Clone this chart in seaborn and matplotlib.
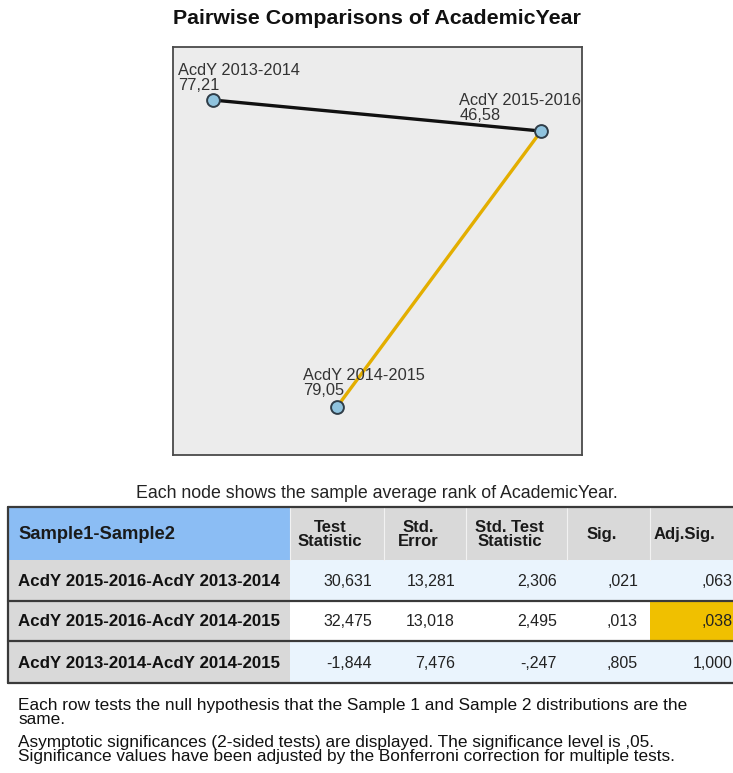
import matplotlib
matplotlib.use("Agg")
import matplotlib.pyplot as plt
from matplotlib import font_manager
from matplotlib.patches import Rectangle
import seaborn as sns
import pandas as pd

# node data (average ranks) and layout position inside the graph box (0-100 scale)
node_names = ["AcdY 2013-2014", "AcdY 2015-2016", "AcdY 2014-2015"]
node_ranks = [77.21, 46.58, 79.05]
node_x = [9.8, 90.0, 40.1]
node_y = [13.0, 20.6, 88.2]

# pairwise table
pairs = ["AcdY 2015-2016-AcdY 2013-2014",
         "AcdY 2015-2016-AcdY 2014-2015",
         "AcdY 2013-2014-AcdY 2014-2015"]
test_stat = [30.631, 32.475, -1.844]
std_err = [13.281, 13.018, 7.476]
std_test = [2.306, 2.495, -0.247]
sig = [0.021, 0.013, 0.805]
adj_sig = [0.063, 0.038, 1.000]
# edges drawn in the graph (index into pairs)
edges = [("AcdY 2015-2016", "AcdY 2013-2014", 0),
         ("AcdY 2015-2016", "AcdY 2014-2015", 1)]

headers = ["Sample1-Sample2", "Test\nStatistic", "Std.\nError",
           "Std. Test\nStatistic", "Sig.", "Adj.Sig."]
notes = ["Each row tests the null hypothesis that the Sample 1 and Sample 2 distributions are the",
         "same.",
         "Asymptotic significances (2-sided tests) are displayed. The significance level is ,05.",
         "Significance values have been adjusted by the Bonferroni correction for multiple tests."]

names = {f.name for f in font_manager.fontManager.ttflist}
REG = "Liberation Sans" if "Liberation Sans" in names else "DejaVu Sans"

sns.set_style("white")
plt.rcParams['font.family'] = [REG, 'DejaVu Sans']


def spss(v):
    s = f"{v:.3f}"
    if s.startswith("0."):
        s = s[1:]
    elif s.startswith("-0."):
        s = "-" + s[2:]
    return s.replace(".", ",")


W, H = 733, 773
fig = plt.figure(figsize=(W / 100, H / 100), dpi=100)
cv = fig.add_axes([0, 0, 1, 1])
cv.set_xlim(0, W)
cv.set_ylim(H, 0)
cv.axis("off")

cv.text(377, 18, "Pairwise Comparisons of AcademicYear", ha="center", va="center",
        fontsize=15.4, fontweight="bold", color="#111")

# graph box
gx0, gx1, gy0, gy1 = 173, 582, 47, 455
g = fig.add_axes([gx0 / W, 1 - gy1 / H, (gx1 - gx0) / W, (gy1 - gy0) / H])
g.set_facecolor("#ececec")
g.set_xlim(0, 100)
g.set_ylim(100, 0)
g.set_xticks([])
g.set_yticks([])
for sp in g.spines.values():
    sp.set_color("#4a4a4a")
    sp.set_linewidth(1.3)

nodes = pd.DataFrame({"name": node_names, "rank": node_ranks, "x": node_x, "y": node_y}).set_index("name")
for a, b, i in edges:
    col = "#e3ae00" if adj_sig[i] < 0.05 else "#111111"
    g.plot([nodes.loc[a, "x"], nodes.loc[b, "x"]], [nodes.loc[a, "y"], nodes.loc[b, "y"]],
           color=col, lw=2.4, solid_capstyle="round", zorder=2)
sns.scatterplot(data=nodes.reset_index(), x="x", y="y", ax=g, s=85, color="#8fc3de",
                edgecolor="#2f3d48", linewidth=1.4, zorder=3, legend=False)
g.set_xlabel("")
g.set_ylabel("")
label_off = {"AcdY 2013-2014": (-25, 5), "AcdY 2015-2016": (-59, 6), "AcdY 2014-2015": (-24.5, 6.5)}
for name, row in nodes.iterrows():
    g.annotate(f"{name}\n{row['rank']:.2f}".replace(".", ","), (row["x"], row["y"]),
               xytext=label_off[name], textcoords="offset points", ha="left", va="bottom",
               fontsize=11.8, color="#333", linespacing=1.0, zorder=4)

cv.text(377, 493, "Each node shows the sample average rank of AcademicYear.", ha="center",
        va="center", fontsize=12.8, color="#222")

# table
col_edges = [8, 290, 384, 466, 567, 650, 760]
row_edges = [507, 560, 601, 641, 683]
cols = [test_stat, std_err, std_test, sig, adj_sig]
for c in range(6):
    x0, x1 = col_edges[c], col_edges[c + 1]
    cv.add_patch(Rectangle((x0, row_edges[0]), x1 - x0, row_edges[1] - row_edges[0],
                           facecolor="#8bbdf4" if c == 0 else "#d9d9d9", edgecolor="none"))
    if c > 0:
        cv.plot([x0, x0], [row_edges[0], row_edges[1]], color="#f2f2f2", lw=0.8)
    if c == 0:
        cv.text(18, (row_edges[0] + row_edges[1]) / 2 + 1, headers[0], ha="left", va="center",
                fontsize=13.2, fontweight="bold", color="#1a1a1a")
    else:
        cv.text((x0 + min(x1, 733)) / 2 - 7, (row_edges[0] + row_edges[1]) / 2 + 1,
                headers[c], ha="center", va="center", multialignment="center", fontsize=12,
                fontweight="bold", color="#1a1a1a", linespacing=0.95)

num_right = [372, 455, 557, 638, 733]
for r, label in enumerate(pairs):
    y0, y1 = row_edges[r + 1], row_edges[r + 2]
    ym = (y0 + y1) / 2 + 1
    bg = "#ffffff" if r == 1 else "#eaf4fd"
    cv.add_patch(Rectangle((col_edges[0], y0), col_edges[1] - col_edges[0], y1 - y0,
                           facecolor="#d9d9d9", edgecolor="none"))
    cv.add_patch(Rectangle((col_edges[1], y0), col_edges[-1] - col_edges[1], y1 - y0,
                           facecolor=bg, edgecolor="none"))
    if adj_sig[r] < 0.05:
        cv.add_patch(Rectangle((col_edges[5], y0), col_edges[6] - col_edges[5], y1 - y0,
                               facecolor="#f0c000", edgecolor="none"))
    cv.text(18, ym, label, ha="left", va="center", fontsize=12.2,
            fontweight="bold", color="#111")
    for c, vals in enumerate(cols):
        cv.text(num_right[c], ym, spss(vals[r]), ha="right", va="center",
                fontsize=11.5, color="#222")

for y in row_edges[2:]:
    cv.plot([col_edges[0], W], [y, y], color="#3a3a3a", lw=1.6)
cv.plot([col_edges[0], W], [row_edges[0], row_edges[0]], color="#3a3a3a", lw=1.6)
cv.plot([col_edges[0], col_edges[0]], [row_edges[0], row_edges[-1]], color="#3a3a3a", lw=1.6)

# footnotes, two blocks of two lines each
cv.text(18, 698, notes[0] + "\n" + notes[1], ha="left", va="top", fontsize=12.4,
        color="#111", linespacing=0.9)
cv.text(18, 735, notes[2] + "\n" + notes[3], ha="left", va="top", fontsize=12.4,
        color="#111", linespacing=0.9)

fig.savefig("out.png", dpi=100)
